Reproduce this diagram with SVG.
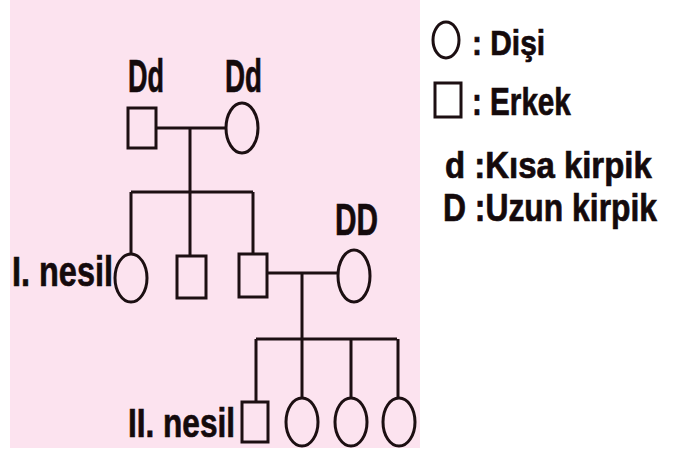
<svg xmlns="http://www.w3.org/2000/svg" width="681" height="454" viewBox="0 0 681 454">
<style>
.s{fill:none;stroke:#1c0f12;stroke-width:3}
.l{fill:none;stroke:#1c0f12;stroke-width:3}
.t{font-family:"Liberation Sans",Arial,sans-serif;font-weight:bold;fill:#140a0c;stroke:#140a0c;stroke-width:0.7}
</style>
<rect x="0" y="0" width="681" height="454" fill="#ffffff"/>
<rect x="10" y="0" width="410" height="448" fill="#fce3ef"/>
<g id="connectors">
<path class="l" d="M156 128H226M190 128V192M131 192H253M131 192V253M190 192V256M253 192V254"/>
<path class="l" d="M267 273H338M302 273V339M256 339H397M256 339V402M302 339V398M351 339V398M398 339V398"/>
</g>
<g id="father"><rect class="s" x="128" y="108" width="28" height="40"/><text class="t" x="128" y="92" font-size="47" textLength="36" lengthAdjust="spacingAndGlyphs">Dd</text></g>
<g id="mother"><ellipse class="s" cx="242" cy="128" rx="16" ry="25"/><text class="t" x="225" y="92" font-size="47" textLength="37" lengthAdjust="spacingAndGlyphs">Dd</text></g>
<g id="gen1-daughter"><ellipse class="s" cx="131" cy="278" rx="16" ry="24"/><text class="t" x="12" y="286" font-size="42" textLength="101" lengthAdjust="spacingAndGlyphs">I. nesil</text></g>
<g id="gen1-son1"><rect class="s" x="177" y="256" width="29" height="42"/></g>
<g id="gen1-son2"><rect class="s" x="239" y="254" width="28" height="43"/></g>
<g id="spouse"><ellipse class="s" cx="354" cy="276" rx="16" ry="26"/><text class="t" x="335" y="235" font-size="45" textLength="43" lengthAdjust="spacingAndGlyphs">DD</text></g>
<g id="gen2-son"><rect class="s" x="242" y="402" width="26" height="40"/><text class="t" x="128" y="437" font-size="41" textLength="107" lengthAdjust="spacingAndGlyphs">II. nesil</text></g>
<g id="gen2-daughter1"><ellipse class="s" cx="302" cy="422" rx="16" ry="24"/></g>
<g id="gen2-daughter2"><ellipse class="s" cx="351" cy="422" rx="16" ry="24"/></g>
<g id="gen2-daughter3"><ellipse class="s" cx="399" cy="422" rx="16" ry="24"/></g>
<g id="legend">
<ellipse class="s" cx="446" cy="40" rx="13" ry="18"/>
<text class="t" font-size="36" transform="translate(472 55) scale(0.83 1)">: Dişi</text>
<rect class="s" x="435" y="83" width="26" height="34"/>
<text class="t" font-size="38" transform="translate(472 115) scale(0.78 1)">: Erkek</text>
<text class="t" font-size="37" transform="translate(445 178) scale(0.89 1)">d :Kısa kirpik</text>
<text class="t" font-size="38" transform="translate(443 221) scale(0.838 1)">D :Uzun kirpik</text>
</g>
</svg>
